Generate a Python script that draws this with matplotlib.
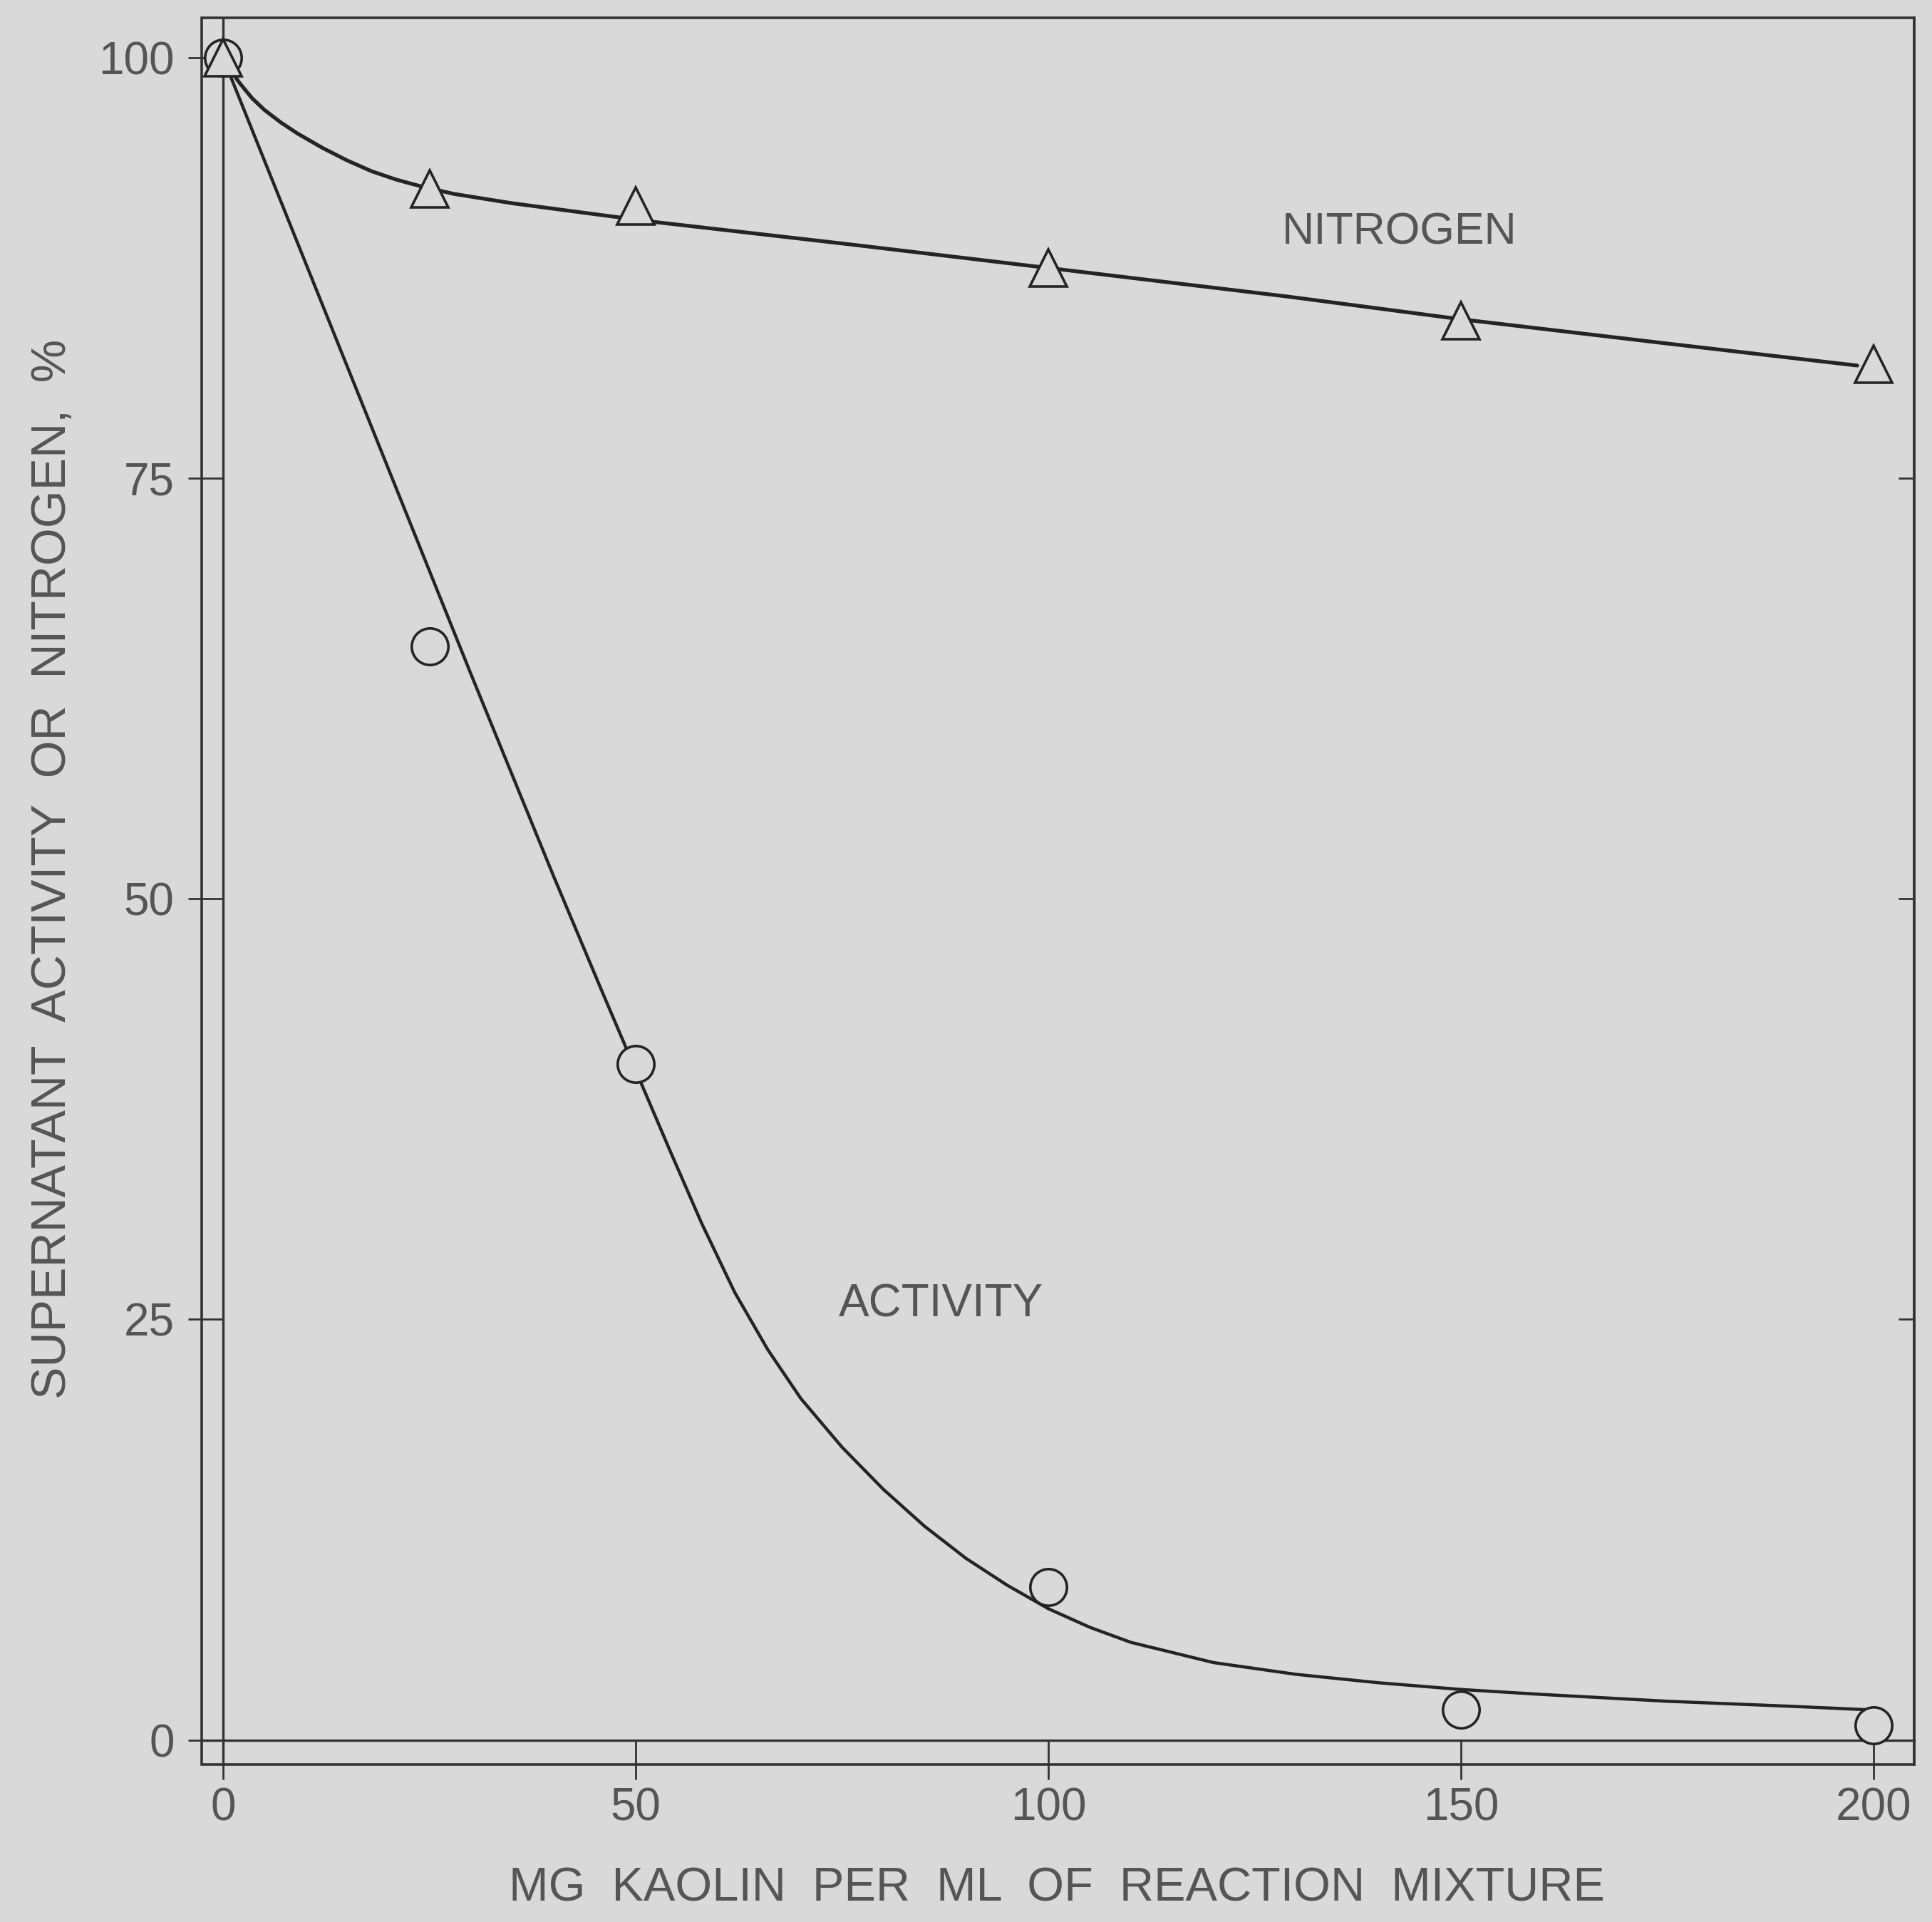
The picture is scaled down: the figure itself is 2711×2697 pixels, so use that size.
import matplotlib
matplotlib.use("Agg")
import matplotlib.pyplot as plt
from matplotlib.patches import Rectangle

# ---- data ----
kaolin_mg = [0, 25, 50, 100, 150, 200]
nitrogen_pct = [100, 92.2, 91.2, 87.5, 84.35, 81.8]
activity_pct = [100, 65.0, 40.2, 9.1, 1.8, 0.85]

# hand-drawn smooth curves
nitrogen_curve_x = [0, 1, 2, 3.5, 5, 7, 9, 12, 15, 18, 21, 24, 28, 35, 45, 52,
                    76, 100, 129, 150, 176, 198]
nitrogen_curve_y = [100, 99.2, 98.5, 97.6, 96.9, 96.15, 95.5, 94.65, 93.9, 93.25,
                    92.75, 92.35, 91.9, 91.35, 90.7, 90.25, 88.9, 87.5, 85.8,
                    84.45, 82.95, 81.7]

activity_curve_x = [0, 10, 20, 30, 40, 46, 50, 54, 58, 62, 66, 70, 75, 80, 85,
                    90, 95, 100, 105, 110, 120, 130, 140, 150, 160, 175, 190, 199]
activity_curve_y = [100, 87.8, 75.6, 63.4, 51.4, 44.4, 39.8, 35.2, 30.7, 26.6,
                    23.2, 20.3, 17.4, 14.9, 12.7, 10.8, 9.2, 7.8, 6.7, 5.8, 4.6,
                    3.9, 3.4, 3.0, 2.7, 2.3, 2.0, 1.8]

x_ticks = [0, 50, 100, 150, 200]
x_tick_labels = ["0", "50", "100", "150", "200"]
y_ticks = [0, 25, 50, 75, 100]
y_tick_labels = ["0", "25", "50", "75", "100"]
right_ticks = [25, 50, 75]

x_label = "MG  KAOLIN  PER  ML  OF  REACTION  MIXTURE"
y_label = "SUPERNATANT  ACTIVITY  OR  NITROGEN,  %"
label_nitrogen = "NITROGEN"
label_activity = "ACTIVITY"

# ---- style ----
BG = "#d9d9d9"
INK = "#242424"
TXT = "#555555"
FONT = ["Liberation Sans", "DejaVu Sans"]
plt.rcParams["font.family"] = FONT

W, H, DPI = 2711, 2697, 200
fig = plt.figure(figsize=(W / DPI, H / DPI), dpi=DPI)
fig.patch.set_facecolor(BG)

ax = fig.add_axes([283 / W, 1 - 2476 / H, 2403 / W, 2451 / H])
ax.set_facecolor(BG)
ax.set_xlim(-2.59, 204.9)
ax.set_ylim(-1.46, 102.37)

# inner axes lines at data zero
for s in ("left", "bottom"):
    ax.spines[s].set_position(("data", 0))
    ax.spines[s].set_color("#333333")
    ax.spines[s].set_linewidth(1.2)
ax.spines["top"].set_visible(False)
ax.spines["right"].set_visible(False)

# outer frame
ax.add_patch(Rectangle((0, 0), 1, 1, transform=ax.transAxes, fill=False,
                       ec="#333333", lw=1.3, clip_on=False, zorder=5))

ax.set_xticks(x_ticks)
ax.set_xticklabels(x_tick_labels)
ax.set_yticks(y_ticks)
ax.set_yticklabels(y_tick_labels)
ax.tick_params(axis="x", direction="out", length=19.8, width=1.0, color="#333333",
               pad=4, labelsize=23, labelcolor=TXT)
ax.tick_params(axis="y", direction="out", length=17.6, width=1.0, color="#333333",
               pad=7, labelsize=23, labelcolor=TXT)
ax.tick_params(top=False, right=False)

sec = ax.secondary_yaxis("right")
sec.set_yticks(right_ticks)
sec.tick_params(direction="in", length=8, width=1.0, color="#333333", labelright=False)
sec.spines["right"].set_color("#333333")
sec.spines["right"].set_linewidth(1.3)

# curves
ax.plot(nitrogen_curve_x, nitrogen_curve_y, color=INK, lw=1.9, zorder=2,
        solid_joinstyle="round", solid_capstyle="round")
ax.plot(activity_curve_x, activity_curve_y, color=INK, lw=1.6, zorder=2,
        solid_joinstyle="round", solid_capstyle="round")

# markers
ax.plot(kaolin_mg, activity_pct, ls="none", marker="o", ms=18.5, mfc=BG,
        mec=INK, mew=1.3, zorder=3, clip_on=False)
ax.plot(kaolin_mg, nitrogen_pct, ls="none", marker="^", ms=19, mfc=BG,
        mec=INK, mew=1.3, zorder=4, clip_on=False)

ax.text(142.5, 89.6, label_nitrogen, ha="center", va="center", fontsize=22.5,
        color=TXT)
ax.text(87.0, 25.9, label_activity, ha="center", va="center", fontsize=23,
        color=TXT)

fig.text(1483 / W, 1 - 2651 / H, x_label, ha="center", va="center",
         fontsize=24, color=TXT)
fig.text(74 / W, 1 - 1219 / H, y_label, ha="center", va="center",
         rotation=90, fontsize=24.5, color=TXT)

fig.savefig("out.png", dpi=DPI, facecolor=BG)
